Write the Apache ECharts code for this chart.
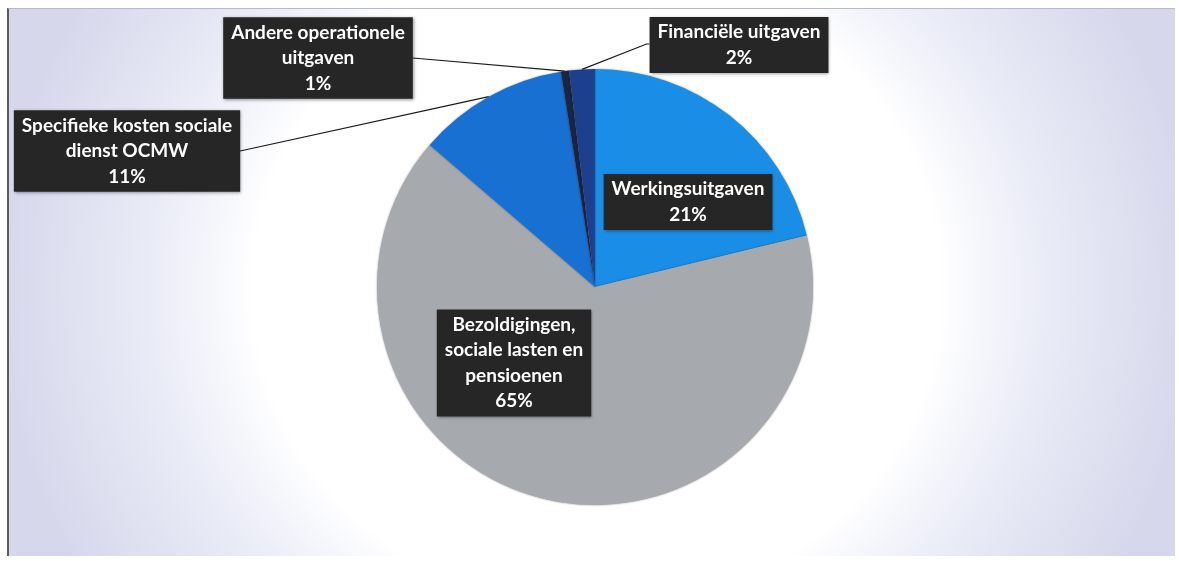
<!DOCTYPE html>
<html>
<head>
<meta charset="utf-8">
<script src="https://cdn.jsdelivr.net/npm/echarts@6/dist/echarts.min.js"></script>
<style>
  html, body { margin: 0; padding: 0; background: #ffffff; }
  #bg {
    position: absolute; left: 7px; top: 8px; width: 1168px; height: 548px;
    background: radial-gradient(ellipse 600px 560px at 588px 279px, #ffffff 0%, #ffffff 57%, #eaecf7 74%, #d6d7eb 100%);
    border-left: 2px solid #5a5a66; border-top: 1px solid #b8b8c8;
    box-sizing: border-box;
  }
  #chart { position: absolute; left: 0; top: 0; width: 1179px; height: 561px; }
</style>
</head>
<body>
<div id="bg"></div>
<div id="chart"></div>
<script>
// Data
const categories = [
  'Werkingsuitgaven',
  'Bezoldigingen, sociale lasten en pensioenen',
  'Specifieke kosten sociale dienst OCMW',
  'Andere operationele uitgaven',
  'Financiële uitgaven'
];
const labelNames = [
  'Werkingsuitgaven',
  'Bezoldigingen,\nsociale lasten en\npensioenen',
  'Specifieke kosten sociale\ndienst OCMW',
  'Andere operationele\nuitgaven',
  'Financiële uitgaven'
];
const values = [21.2, 65.1, 11.2, 0.6, 1.9];

// Styles
const colors = ['#1a8ee6', '#a6aaae', '#1770d2', '#1b2440', '#1c3f8e'];
const labelCenters = [[688, 202], [514, 363], [127, 151], [318, 58], [739, 45]];
const outside = [false, false, true, true, true];

const chart = echarts.init(document.getElementById('chart'), null, { renderer: 'canvas' });

const data = categories.map((c, i) => ({
  name: c,
  value: values[i],
  itemStyle: { color: colors[i] },
  labelLine: { show: outside[i] }
}));

chart.setOption({
  animation: false,
  series: [{
    type: 'pie',
    center: [595, 287],
    radius: 218,
    startAngle: 90,
    clockwise: true,
    percentPrecision: 0,
    avoidLabelOverlap: false,
    data: data,
    itemStyle: {
      borderWidth: 0,
      shadowBlur: 2,
      shadowColor: 'rgba(0,0,0,0.45)'
    },
    label: {
      show: true,
      position: 'outside',
      formatter: p => labelNames[p.dataIndex] + '\n' + p.percent + '%',
      color: '#ffffff',
      fontFamily: 'Lato',
      fontWeight: 'bold',
      fontSize: 19,
      lineHeight: 25.5,
      align: 'center',
      backgroundColor: '#262626',
      padding: [3, 8, 2, 8],
      shadowColor: 'rgba(0,0,0,0.4)',
      shadowBlur: 3,
      shadowOffsetX: 1,
      shadowOffsetY: 1
    },
    labelLine: {
      show: true,
      length: 10,
      length2: 10,
      lineStyle: { color: '#1a1a1a', width: 1.2 }
    },
    labelLayout: function (params) {
      const i = params.dataIndex;
      const c = labelCenters[i];
      const res = { x: c[0], y: c[1], align: 'center', verticalAlign: 'middle' };
      if (outside[i] && params.labelLinePoints) {
        const start = params.labelLinePoints[0];
        const w = params.labelRect.width;
        const endX = c[0] < start[0] ? c[0] + w / 2 : c[0] - w / 2;
        if (i === 4) {
          res.labelLinePoints = [start, [endX - 3, c[1] - 1], [endX, c[1] - 1]];
        } else {
          res.labelLinePoints = [start, [endX, c[1]], [endX, c[1]]];
        }
      }
      return res;
    }
  }]
});
</script>
</body>
</html>
